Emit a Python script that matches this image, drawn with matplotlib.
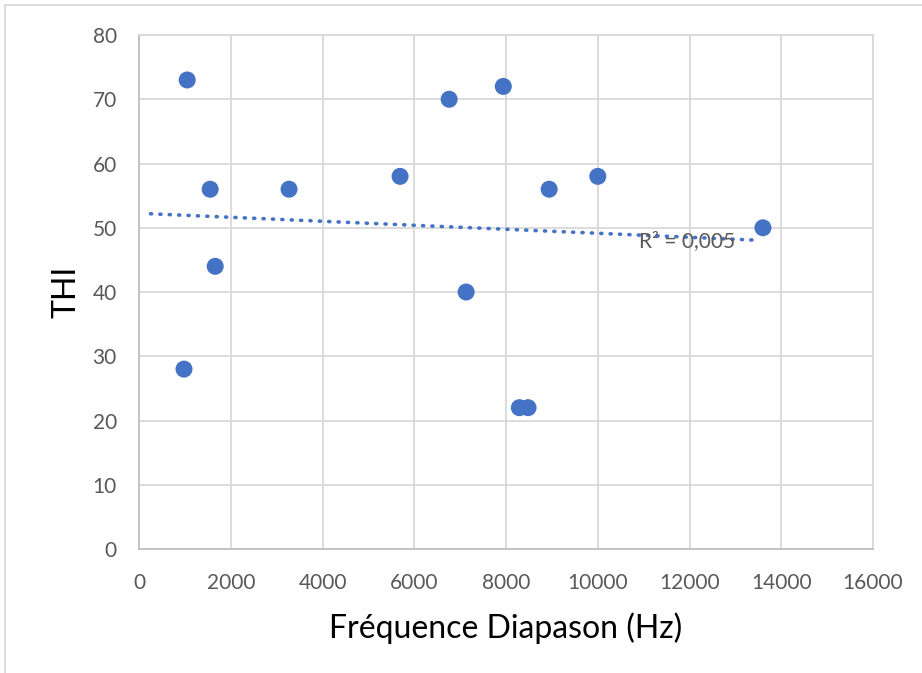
import numpy as np
import matplotlib.pyplot as plt
from matplotlib.lines import Line2D

# Data
freq_hz = [980, 1050, 1550, 1660, 3270, 5690, 6760, 7130, 7940, 8290, 8480, 8940, 10000, 13600]
thi = [28, 73, 56, 44, 56, 58, 70, 40, 72, 22, 22, 56, 58, 50]
x_ticks = [0, 2000, 4000, 6000, 8000, 10000, 12000, 14000, 16000]
y_ticks = [0, 10, 20, 30, 40, 50, 60, 70, 80]

blue = "#4472C4"
grid_col = "#d9d9d9"
text_col = "#595959"

plt.rcParams['font.family'] = ['Lato', 'DejaVu Sans']

fig = plt.figure(figsize=(9.22, 6.73), dpi=100)
ax = fig.add_axes([0.1508, 0.1842, 0.7961, 0.7638])

# linear trend line (Excel-style), with R²
slope, intercept = np.polyfit(freq_hz, thi, 1)
pred = np.polyval([slope, intercept], freq_hz)
r2 = 1 - np.sum((np.array(thi) - pred) ** 2) / np.sum((np.array(thi) - np.mean(thi)) ** 2)
tx = np.array([250, 13480])
ax.plot(tx, slope * tx + intercept, color=blue, lw=2.6,
        linestyle=(0, (0.3, 2.3)), dash_capstyle='round', zorder=2)

ax.scatter(freq_hz, thi, s=150, color=blue, edgecolors='none', zorder=3)

ax.text(10900, 47.9, f"R² = {r2:.3f}".replace(".", ","), color=text_col,
        fontsize=15, ha='left', va='center', zorder=4)

ax.set_xlim(0, 16000)
ax.set_ylim(0, 80)
ax.set_xticks(x_ticks)
ax.set_yticks(y_ticks)
ax.grid(True, color=grid_col, lw=1.3)
ax.set_axisbelow(True)
for s in ax.spines.values():
    s.set_color(grid_col)
    s.set_linewidth(1.3)
ax.spines['left'].set_color("#bfbfbf")
ax.spines['bottom'].set_color("#bfbfbf")
ax.tick_params(length=0, labelsize=15, labelcolor=text_col)
ax.tick_params(axis='y', pad=16)
ax.tick_params(axis='x', pad=17)

ax.set_xlabel("Fréquence Diapason (Hz)", fontsize=23, labelpad=14)
ax.set_ylabel("THI", fontsize=23, labelpad=8)

# outer chart border (cropped)
fig.add_artist(Line2D([5 / 922, 1], [1 - 5 / 673, 1 - 5 / 673], color=grid_col, lw=1.3))
fig.add_artist(Line2D([5 / 922, 5 / 922], [0, 1 - 5 / 673], color=grid_col, lw=1.3))

fig.savefig("out.png", dpi=100)
